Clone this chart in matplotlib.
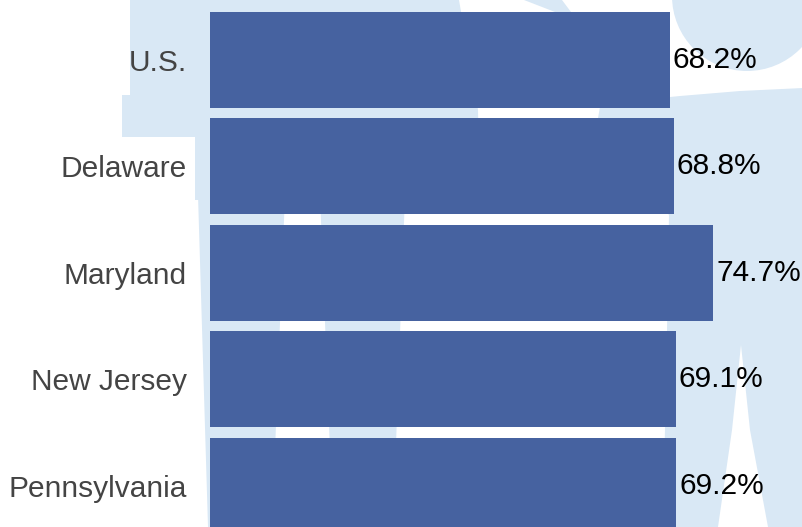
import matplotlib.pyplot as plt
from matplotlib.patches import Polygon, Circle

# data
states = ["U.S.", "Delaware", "Maryland", "New Jersey", "Pennsylvania"]
values = [68.2, 68.8, 74.7, 69.1, 69.2]

bar_color = "#4662a0"
bg_blue = "#d9e8f5"

plt.rcParams['font.family'] = ['Liberation Sans', 'DejaVu Sans']

fig = plt.figure(figsize=(8.03, 5.27), dpi=100)

# --- decorative watermark behind the chart (pixel coords) ---
bg = fig.add_axes([0, 0, 1, 1], zorder=0)
bg.set_xlim(0, 803)
bg.set_ylim(527, 0)
bg.axis("off")

shapes = [
    # left figure body
    [(130, 0), (459, 0), (478, 110), (480, 200), (195, 200), (195, 137),
     (122, 137), (122, 95), (130, 95)],
    # left figure legs
    [(198, 195), (285, 195), (272, 527), (208, 527)],
    [(320, 195), (405, 195), (393, 527), (333, 527)],
    # small piece at the top
    [(524, 0), (562, 0), (571, 12), (555, 12)],
    # right figure body with legs
    [(598, 118), (600, 107), (640, 100), (680, 96), (740, 91), (803, 88),
     (803, 527), (768, 527), (750, 430), (741, 345), (732, 430), (718, 527),
     (663, 527), (667, 330), (669, 215), (600, 125)],
]
for pts in shapes:
    bg.add_patch(Polygon(pts, closed=True, facecolor=bg_blue, edgecolor="none"))
bg.add_patch(Circle((747, -4), 75, facecolor=bg_blue, edgecolor="none"))

# --- bar chart ---
ax = fig.add_axes([210 / 803, 0, 1 - 210 / 803, 1], zorder=1)
ax.patch.set_alpha(0)

ypos = list(range(len(states)))
bars = ax.barh(ypos, values, height=0.9, color=bar_color)
ax.bar_label(bars, labels=[f"{v}%" for v in values], padding=2,
             fontsize=21.5, color="black")

ax.set_xlim(0, 88.0)
ax.set_ylim(4.386, -0.562)
ax.set_yticks(ypos)
ax.set_yticklabels(states, fontsize=21.5, color="#444444")
ax.tick_params(axis="y", length=0, pad=16.5)
ax.set_xticks([])
for s in ax.spines.values():
    s.set_visible(False)

fig.savefig("out.png", dpi=100)
